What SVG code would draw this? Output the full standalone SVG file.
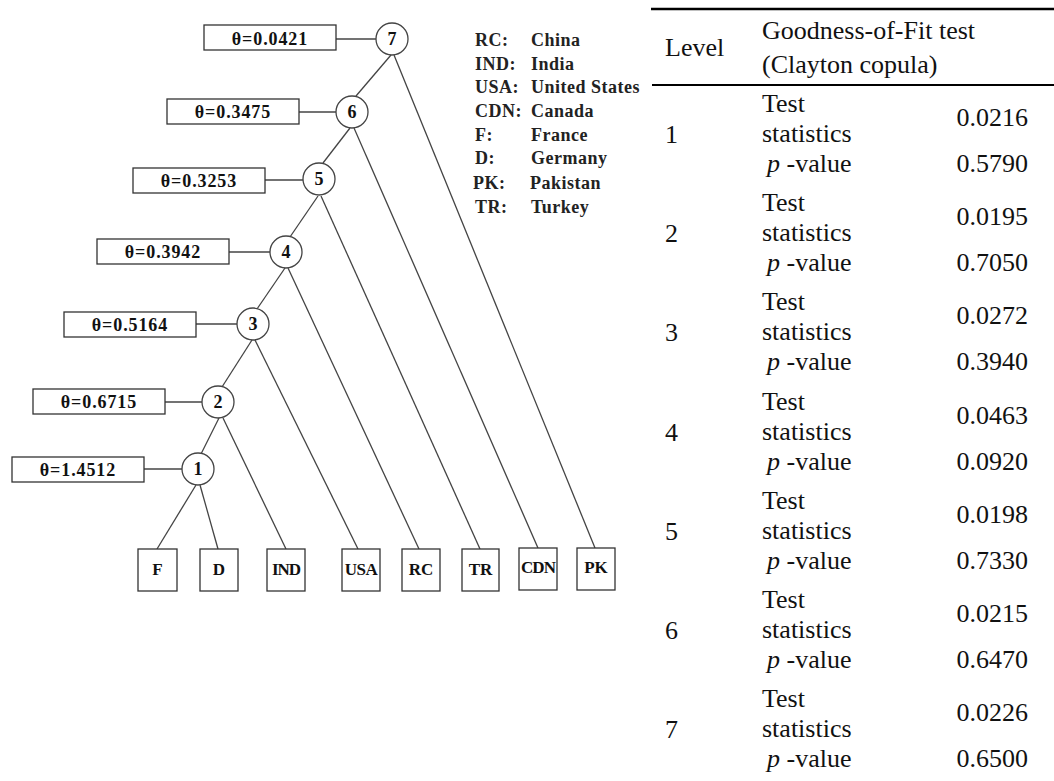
<svg xmlns="http://www.w3.org/2000/svg" width="1054" height="781" viewBox="0 0 1054 781">
<style>
.bg{fill:#fff}
.edge{stroke:#444;stroke-width:1.3;fill:none}
.box{fill:#fff;stroke:#333;stroke-width:1.3}
.circ{fill:#fff;stroke:#444;stroke-width:1.3}
.th{font-family:"Liberation Serif",serif;font-weight:bold;font-size:18px;letter-spacing:0.9px;text-anchor:middle;fill:#111}
.num{font-family:"Liberation Serif",serif;font-weight:bold;font-size:18px;text-anchor:middle;fill:#111}
.leaf{font-family:"Liberation Serif",serif;font-weight:bold;font-size:17px;text-anchor:middle;fill:#111}
.lg{font-family:"Liberation Serif",serif;font-weight:bold;font-size:18px;letter-spacing:0.5px;fill:#222}
.tb{font-family:"Liberation Serif",serif;font-size:26px;fill:#111}
.val{font-family:"Liberation Serif",serif;font-size:26px;fill:#111;text-anchor:end}
.rule{stroke:#000}
</style>
<rect class="bg" x="0" y="0" width="1054" height="781"/>
<g id="connectors">
<line class="edge" x1="336" y1="39" x2="376" y2="39"/>
<line class="edge" x1="299" y1="112" x2="336" y2="112"/>
<line class="edge" x1="265" y1="180" x2="303" y2="180"/>
<line class="edge" x1="229" y1="252" x2="270" y2="252"/>
<line class="edge" x1="196" y1="324" x2="237" y2="324"/>
<line class="edge" x1="165" y1="402" x2="202" y2="402"/>
<line class="edge" x1="144" y1="469" x2="182" y2="469"/>
<line class="edge" x1="391" y1="55" x2="356" y2="96"/>
<line class="edge" x1="394" y1="55" x2="595" y2="548"/>
<line class="edge" x1="350" y1="128" x2="323" y2="163"/>
<line class="edge" x1="354" y1="128" x2="538" y2="548"/>
<line class="edge" x1="318" y1="196" x2="290" y2="237"/>
<line class="edge" x1="321" y1="196" x2="480" y2="549"/>
<line class="edge" x1="285" y1="268" x2="257" y2="309"/>
<line class="edge" x1="288" y1="268" x2="419" y2="549"/>
<line class="edge" x1="252" y1="340" x2="222" y2="387"/>
<line class="edge" x1="255" y1="340" x2="358" y2="549"/>
<line class="edge" x1="219" y1="418" x2="201" y2="454"/>
<line class="edge" x1="223" y1="418" x2="286" y2="549"/>
<line class="edge" x1="196" y1="485" x2="157" y2="549"/>
<line class="edge" x1="200" y1="485" x2="218" y2="549"/>
</g>
<g id="node7"><rect class="box" x="204" y="25" width="132" height="25"/><text class="th" x="270" y="45">θ=0.0421</text><circle class="circ" cx="392" cy="39" r="16"/><text class="num" x="392" y="45">7</text></g>
<g id="node6"><rect class="box" x="167" y="99" width="132" height="25"/><text class="th" x="233" y="118">θ=0.3475</text><circle class="circ" cx="352" cy="112" r="16"/><text class="num" x="352" y="118">6</text></g>
<g id="node5"><rect class="box" x="133" y="168" width="132" height="25"/><text class="th" x="199" y="187">θ=0.3253</text><circle class="circ" cx="319" cy="179" r="16"/><text class="num" x="319" y="185">5</text></g>
<g id="node4"><rect class="box" x="97" y="239" width="132" height="25"/><text class="th" x="163" y="258">θ=0.3942</text><circle class="circ" cx="286" cy="252" r="16"/><text class="num" x="286" y="258">4</text></g>
<g id="node3"><rect class="box" x="64" y="312" width="132" height="25"/><text class="th" x="130" y="331">θ=0.5164</text><circle class="circ" cx="253" cy="324" r="16"/><text class="num" x="253" y="330">3</text></g>
<g id="node2"><rect class="box" x="33" y="389" width="132" height="25"/><text class="th" x="99" y="408">θ=0.6715</text><circle class="circ" cx="218" cy="402" r="16"/><text class="num" x="218" y="408">2</text></g>
<g id="node1"><rect class="box" x="12" y="457" width="132" height="25"/><text class="th" x="78" y="476">θ=1.4512</text><circle class="circ" cx="198" cy="469" r="16"/><text class="num" x="198" y="475">1</text></g>
<g id="leaf-F"><rect class="box" x="138" y="549" width="39" height="42"/><text class="leaf" x="157.5" y="575">F</text></g>
<g id="leaf-D"><rect class="box" x="200" y="549" width="38" height="42"/><text class="leaf" x="219" y="575">D</text></g>
<g id="leaf-IND"><rect class="box" x="267" y="549" width="38" height="42"/><text class="leaf" x="286" y="575" letter-spacing="-1">IND</text></g>
<g id="leaf-USA"><rect class="box" x="342" y="549" width="38" height="42"/><text class="leaf" x="361" y="575" letter-spacing="-0.5">USA</text></g>
<g id="leaf-RC"><rect class="box" x="402" y="549" width="38" height="42"/><text class="leaf" x="421" y="575">RC</text></g>
<g id="leaf-TR"><rect class="box" x="462" y="549" width="37" height="42"/><text class="leaf" x="480.5" y="575">TR</text></g>
<g id="leaf-CDN"><rect class="box" x="519" y="548" width="38" height="42"/><text class="leaf" x="538" y="573" letter-spacing="-1">CDN</text></g>
<g id="leaf-PK"><rect class="box" x="577" y="548" width="38" height="42"/><text class="leaf" x="596" y="573">PK</text></g>
<g id="legend">
<text class="lg" x="475" y="46">RC:</text><text class="lg" x="531" y="46">China</text>
<text class="lg" x="475" y="69.5">IND:</text><text class="lg" x="531" y="69.5">India</text>
<text class="lg" x="475" y="93">USA:</text><text class="lg" x="531" y="93">United States</text>
<text class="lg" x="475" y="117">CDN:</text><text class="lg" x="531" y="117">Canada</text>
<text class="lg" x="475" y="141">F:</text><text class="lg" x="531" y="141">France</text>
<text class="lg" x="475" y="164">D:</text><text class="lg" x="531" y="164">Germany</text>
<text class="lg" x="473" y="189">PK:</text><text class="lg" x="530" y="189">Pakistan</text>
<text class="lg" x="475" y="213">TR:</text><text class="lg" x="531" y="213">Turkey</text>
</g>
<g id="table">
<line class="rule" x1="651" y1="9" x2="1054" y2="9" stroke-width="2.5"/>
<line class="rule" x1="652" y1="85" x2="1054" y2="85" stroke-width="1.8"/>
<text class="tb" x="665" y="56">Level</text>
<text class="tb" x="762" y="39">Goodness-of-Fit test</text>
<text class="tb" x="762" y="73">(Clayton copula)</text>
<g id="row1"><text class="tb" x="665" y="143">1</text><text class="tb" x="762" y="112">Test</text><text class="tb" x="762" y="142">statistics</text><text class="tb" x="767" y="172"><tspan font-style="italic">p</tspan> -value</text><text class="val" x="1028" y="126">0.0216</text><text class="val" x="1028" y="172">0.5790</text></g>
<g id="row2"><text class="tb" x="665" y="242">2</text><text class="tb" x="762" y="211">Test</text><text class="tb" x="762" y="241">statistics</text><text class="tb" x="767" y="271"><tspan font-style="italic">p</tspan> -value</text><text class="val" x="1028" y="225">0.0195</text><text class="val" x="1028" y="271">0.7050</text></g>
<g id="row3"><text class="tb" x="665" y="341">3</text><text class="tb" x="762" y="310">Test</text><text class="tb" x="762" y="340">statistics</text><text class="tb" x="767" y="370"><tspan font-style="italic">p</tspan> -value</text><text class="val" x="1028" y="324">0.0272</text><text class="val" x="1028" y="370">0.3940</text></g>
<g id="row4"><text class="tb" x="665" y="441">4</text><text class="tb" x="762" y="410">Test</text><text class="tb" x="762" y="440">statistics</text><text class="tb" x="767" y="470"><tspan font-style="italic">p</tspan> -value</text><text class="val" x="1028" y="424">0.0463</text><text class="val" x="1028" y="470">0.0920</text></g>
<g id="row5"><text class="tb" x="665" y="540">5</text><text class="tb" x="762" y="509">Test</text><text class="tb" x="762" y="539">statistics</text><text class="tb" x="767" y="569"><tspan font-style="italic">p</tspan> -value</text><text class="val" x="1028" y="523">0.0198</text><text class="val" x="1028" y="569">0.7330</text></g>
<g id="row6"><text class="tb" x="665" y="639">6</text><text class="tb" x="762" y="608">Test</text><text class="tb" x="762" y="638">statistics</text><text class="tb" x="767" y="668"><tspan font-style="italic">p</tspan> -value</text><text class="val" x="1028" y="622">0.0215</text><text class="val" x="1028" y="668">0.6470</text></g>
<g id="row7"><text class="tb" x="665" y="738">7</text><text class="tb" x="762" y="707">Test</text><text class="tb" x="762" y="737">statistics</text><text class="tb" x="767" y="767"><tspan font-style="italic">p</tspan> -value</text><text class="val" x="1028" y="721">0.0226</text><text class="val" x="1028" y="767">0.6500</text></g>
</g>
</svg>
